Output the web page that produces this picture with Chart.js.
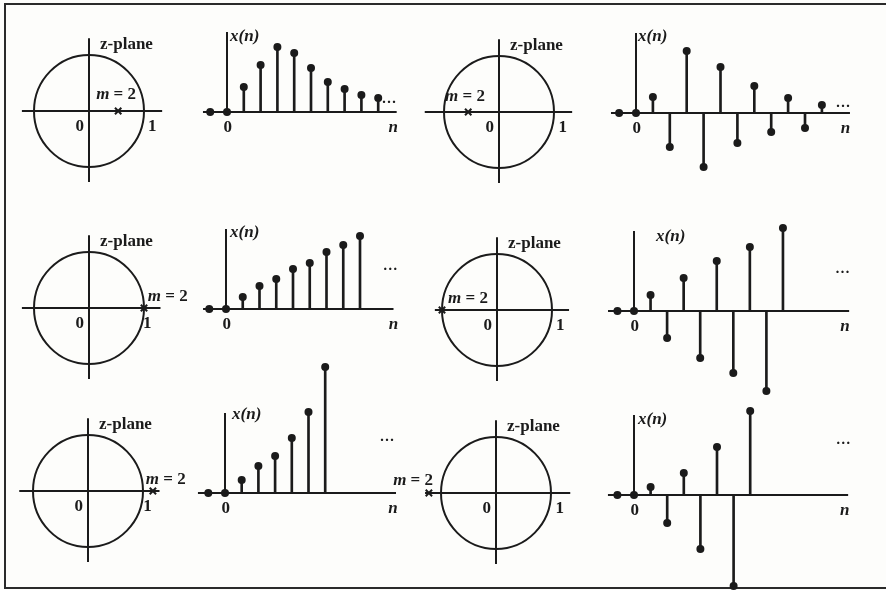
<!DOCTYPE html>
<html>
<head>
<meta charset="utf-8">
<script src="https://cdn.jsdelivr.net/npm/chart.js@4.4.0/dist/chart.umd.min.js"></script>
<style>
html,body{margin:0;padding:0;background:#fff;}
#wrap{position:relative;width:886px;height:590px;overflow:hidden;background:#fdfdfb;}
#frame{position:absolute;left:4px;top:3px;width:900px;height:582px;border:2px solid #2a2a2a;border-right:none;}
canvas{position:absolute;left:0;top:0;}
</style>
</head>
<body>
<div id="wrap"><div id="frame"></div></div>
<script>
// pole locations on the real axis, one per z-plane
const poles = [0.53, -0.56, 1, -1, 1.18, -1.22];

// stem plots x(n)
const nA = [-1, 0, 1, 2, 3, 4, 5, 6, 7, 8, 9];
const xA = [0, 0, 2.5, 4.7, 6.5, 5.9, 4.4, 3.0, 2.3, 1.7, 1.4];
const nB = [-1, 0, 1, 2, 3, 4, 5, 6, 7, 8, 9, 10, 11];
const xB = [0, 0, 1.6, -3.4, 6.2, -5.4, 4.6, -3.0, 2.7, -1.9, 1.5, -1.5, 0.8];
const nC = [-1, 0, 1, 2, 3, 4, 5, 6, 7, 8];
const xC = [0, 0, 1.2, 2.3, 3.0, 4.0, 4.6, 5.7, 6.4, 7.3];
const nD = [-1, 0, 1, 2, 3, 4, 5, 6, 7, 8, 9];
const xD = [0, 0, 1.6, -2.7, 3.3, -4.7, 5.0, -6.2, 6.4, -8.0, 8.3];
const nE = [-1, 0, 1, 2, 3, 4, 5, 6];
const xE = [0, 0, 1.3, 2.7, 3.7, 5.5, 8.1, 12.6];
const nF = [-1, 0, 1, 2, 3, 4, 5, 6, 7];
const xF = [0, 0, 0.8, -2.8, 2.2, -5.4, 4.8, -9.1, 8.4];

const stemData = [[nA, xA], [nB, xB], [nC, xC], [nD, xD], [nE, xE], [nF, xF]];

const W = 886, H = 590;
const INK = '#1b1b1b';
const SERIF = "'Liberation Serif', 'DejaVu Serif', serif";

// where each panel sits on the page
const circlePanels = [
  {cx: 89,  cy: 111, hx: [-1.22, 1.33], mx: 0.13,  my: 0.29, one: 1.15},
  {cx: 499, cy: 112, hx: [-1.35, 1.33], mx: -0.98, my: 0.27, one: 1.16},
  {cx: 89,  cy: 308, hx: [-1.22, 1.30], mx: 1.07,  my: 0.21, one: 1.06},
  {cx: 497, cy: 310, hx: [-1.13, 1.31], mx: -0.89, my: 0.21, one: 1.15},
  {cx: 88,  cy: 491, hx: [-1.25, 1.30], mx: 1.05,  my: 0.20, one: 1.08},
  {cx: 496, cy: 493, hx: [-1.29, 1.35], mx: -1.87, my: 0.23, one: 1.16}
];
const stemPanels = [
  {x0: 227, dx: 16.8,  y0: 112, hx: [-1.43, 10.1],  lx: 0.18, ly: 7.5, ex: 9.64, ey: 0.9, nx: 9.9},
  {x0: 636, dx: 16.9,  y0: 113, hx: [-1.48, 12.66], lx: 0.12, ly: 7.6, ex: 12.25, ey: 0.6, nx: 12.4},
  {x0: 226, dx: 16.75, y0: 309, hx: [-1.37, 10.0],  lx: 0.24, ly: 7.6, ex: 9.8, ey: 3.9, nx: 10.0},
  {x0: 634, dx: 16.55, y0: 311, hx: [-1.57, 13.0],  lx: 1.33, ly: 7.4, ex: 12.6, ey: 3.8, nx: 12.75},
  {x0: 225, dx: 16.7,  y0: 493, hx: [-1.62, 10.24], lx: 0.42, ly: 7.8, ex: 9.7, ey: 5.2, nx: 10.06},
  {x0: 634, dx: 16.6,  y0: 495, hx: [-1.57, 12.9],  lx: 0.24, ly: 7.5, ex: 12.6, ey: 5.1, nx: 12.7}
];

function newCanvas() {
  const c = document.createElement('canvas');
  c.width = W; c.height = H;
  document.getElementById('wrap').appendChild(c);
  return c.getContext('2d');
}

function text(ctx, t, x, y, font, align) {
  ctx.font = font;
  ctx.textAlign = align || 'left';
  ctx.textBaseline = 'middle';
  ctx.fillStyle = INK;
  ctx.fillText(t, x, y);
}

function line(ctx, x1, y1, x2, y2) {
  ctx.beginPath();
  ctx.moveTo(x1, y1);
  ctx.lineTo(x2, y2);
  ctx.stroke();
}

// hidden linear axis that keeps exactly the range it is given
function axis(min, max) {
  return {type: 'linear', min: min, max: max, bounds: 'data', display: false, offset: false, grace: 0};
}

const baseOptions = {
  responsive: false,
  animation: false,
  events: [],
  layout: {padding: 0, autoPadding: false},
  plugins: {legend: {display: false}, tooltip: {enabled: false}}
};

// z-plane charts: the whole canvas is the chart area, scaled so the unit circle lands in place
circlePanels.forEach((p, i) => {
  const rx = 55, ry = 56;
  new Chart(newCanvas(), {
    type: 'scatter',
    data: {
      datasets: [{
        data: [{x: poles[i], y: 0}],
        pointStyle: 'crossRot',
        pointRadius: 4.5,
        borderWidth: 2,
        borderColor: INK,
        clip: false
      }]
    },
    options: Object.assign({}, baseOptions, {
      scales: {
        x: axis(-p.cx / rx, (W - p.cx) / rx),
        y: axis(-(H - p.cy) / ry, p.cy / ry)
      }
    }),
    plugins: [{
      id: 'zplane',
      beforeDatasetsDraw(chart) {
        const {ctx, scales: {x, y}} = chart;
        ctx.save();
        ctx.strokeStyle = INK;
        ctx.lineWidth = 2;
        line(ctx, x.getPixelForValue(p.hx[0]), y.getPixelForValue(0), x.getPixelForValue(p.hx[1]), y.getPixelForValue(0));
        line(ctx, x.getPixelForValue(0), y.getPixelForValue(1.3), x.getPixelForValue(0), y.getPixelForValue(-1.27));
        ctx.beginPath();
        ctx.ellipse(x.getPixelForValue(0), y.getPixelForValue(0),
          x.getPixelForValue(1) - x.getPixelForValue(0),
          y.getPixelForValue(0) - y.getPixelForValue(1), 0, 0, Math.PI * 2);
        ctx.stroke();

        text(ctx, 'z-plane', x.getPixelForValue(0.2), y.getPixelForValue(1.18), 'bold 17px ' + SERIF);
        text(ctx, '0', x.getPixelForValue(-0.17), y.getPixelForValue(-0.27), 'bold 17px ' + SERIF, 'center');
        text(ctx, '1', x.getPixelForValue(p.one), y.getPixelForValue(-0.27), 'bold 17px ' + SERIF, 'center');
        const mx = x.getPixelForValue(p.mx), my = y.getPixelForValue(p.my);
        text(ctx, 'm', mx, my, 'italic bold 17px ' + SERIF);
        const w = ctx.measureText('m').width;
        text(ctx, ' = 2', mx + w, my, 'bold 17px ' + SERIF);
        ctx.restore();
      }
    }]
  });
});

// x(n) stem charts
stemPanels.forEach((p, i) => {
  const [ns, vals] = stemData[i];
  const pts = ns.map((n, k) => ({x: n, y: vals[k]}));
  const ppu = 10;
  new Chart(newCanvas(), {
    type: 'scatter',
    data: {
      datasets: [
        {
          type: 'bar',
          data: pts,
          backgroundColor: INK,
          barThickness: 2,
          clip: false
        },
        {
          data: pts,
          pointRadius: 4,
          backgroundColor: INK,
          borderColor: INK,
          borderWidth: 0,
          clip: false
        }
      ]
    },
    options: Object.assign({}, baseOptions, {
      scales: {
        x: axis(-p.x0 / p.dx, (W - p.x0) / p.dx),
        y: axis(-(H - p.y0) / ppu, p.y0 / ppu)
      }
    }),
    plugins: [{
      id: 'stemAxes',
      beforeDatasetsDraw(chart) {
        const {ctx, scales: {x, y}} = chart;
        ctx.save();
        ctx.strokeStyle = INK;
        ctx.lineWidth = 2;
        line(ctx, x.getPixelForValue(p.hx[0]), y.getPixelForValue(0), x.getPixelForValue(p.hx[1]), y.getPixelForValue(0));
        line(ctx, x.getPixelForValue(0), y.getPixelForValue(0), x.getPixelForValue(0), y.getPixelForValue(8.0));
        text(ctx, 'x(n)', x.getPixelForValue(p.lx), y.getPixelForValue(p.ly), 'italic bold 17px ' + SERIF);
        text(ctx, '0', x.getPixelForValue(0.05), y.getPixelForValue(-1.6), 'bold 17px ' + SERIF, 'center');
        text(ctx, 'n', x.getPixelForValue(p.nx), y.getPixelForValue(-1.6), 'italic bold 17px ' + SERIF, 'center');
        text(ctx, '···', x.getPixelForValue(p.ex), y.getPixelForValue(p.ey), 'bold 15px ' + SERIF, 'center');
        ctx.restore();
      }
    }]
  });
});
</script>
</body>
</html>
